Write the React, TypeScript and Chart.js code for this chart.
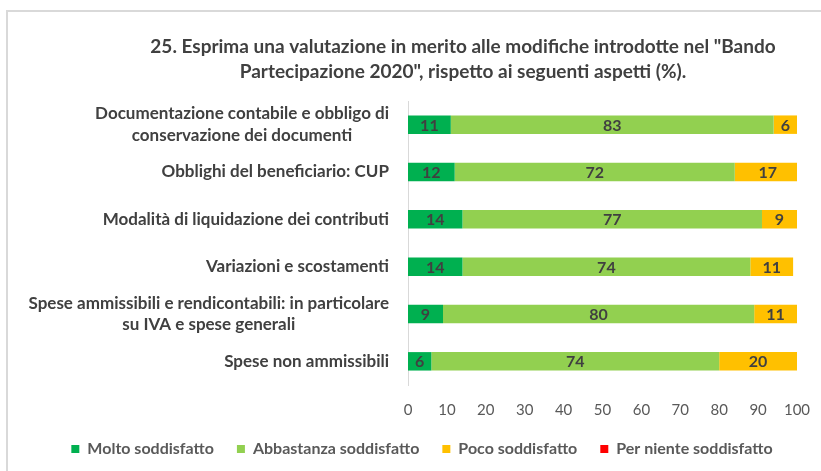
import React, { useEffect, useRef } from "react";
import { Chart, registerables } from "chart.js";

Chart.register(...registerables);

const FONT = 'Lato, "Open Sans", "Noto Sans", sans-serif';

const titleLines = [
  '25. Esprima una valutazione in merito alle modifiche introdotte nel "Bando',
  'Partecipazione 2020", rispetto ai seguenti aspetti (%).',
];

const categories: string[][] = [
  ["Documentazione contabile e obbligo di", "conservazione dei documenti"],
  ["Obblighi del beneficiario: CUP"],
  ["Modalità di liquidazione dei contributi"],
  ["Variazioni e scostamenti"],
  ["Spese ammissibili e rendicontabili: in particolare", "su IVA e spese generali"],
  ["Spese non ammissibili"],
];

const seriesNames = [
  "Molto soddisfatto",
  "Abbastanza soddisfatto",
  "Poco soddisfatto",
  "Per niente soddisfatto",
];
const seriesColors = ["#00B050", "#92D050", "#FFC000", "#FF0000"];

const molto = [11, 12, 14, 14, 9, 6];
const abbastanza = [83, 72, 77, 74, 80, 74];
const poco = [6, 17, 9, 11, 11, 20];
const perNiente = [0, 0, 0, 0, 0, 0];

const xMin = 0;
const xMax = 100;
const xStep = 10;

const titlePlugin = {
  id: "customTitle",
  afterDraw(chart: any) {
    const ctx = chart.ctx;
    ctx.save();
    ctx.font = `bold 19px ${FONT}`;
    ctx.fillStyle = "#404040";
    ctx.textAlign = "center";
    ctx.textBaseline = "middle";
    titleLines.forEach((l, i) => ctx.fillText(l, 463, 47 + i * 25));
    ctx.restore();
  },
};

const yLabelPlugin = {
  id: "yLabels",
  afterDraw(chart: any) {
    const ctx = chart.ctx;
    const yScale = chart.scales.y;
    const labels = chart.data.labels as string[][];
    const right = chart.chartArea.left - 19;
    const LH = 21.5;
    ctx.save();
    ctx.font = `bold 17px ${FONT}`;
    ctx.fillStyle = "#404040";
    ctx.textAlign = "center";
    ctx.textBaseline = "middle";
    labels.forEach((lines, i) => {
      const yc = yScale.getPixelForValue(i);
      const bw = Math.max(...lines.map((l) => ctx.measureText(l).width));
      const cx = right - bw / 2;
      lines.forEach((l, j) => {
        ctx.fillText(l, cx, yc + (j - (lines.length - 1) / 2) * LH);
      });
    });
    ctx.restore();
  },
};

const dataLabelPlugin = {
  id: "dataLabels",
  afterDatasetsDraw(chart: any) {
    const ctx = chart.ctx;
    ctx.save();
    ctx.font = `bold 16px ${FONT}`;
    ctx.fillStyle = "#404040";
    ctx.textAlign = "center";
    ctx.textBaseline = "middle";
    chart.data.datasets.forEach((ds: any, di: number) => {
      const meta = chart.getDatasetMeta(di);
      if (meta.hidden) return;
      meta.data.forEach((el: any, i: number) => {
        const v = ds.data[i];
        if (!v) return;
        const p = el.getProps(["x", "y", "base"], true);
        ctx.fillText(String(v), (p.x + p.base) / 2, p.y + 1);
      });
    });
    ctx.restore();
  },
};

export default function App() {
  const ref = useRef<HTMLCanvasElement>(null);
  useEffect(() => {
    if (!ref.current) return;
    const values = [molto, abbastanza, poco, perNiente];
    const chart = new Chart(ref.current, {
      type: "bar",
      data: {
        labels: categories as any,
        datasets: seriesNames.map((name, i) => ({
          label: name,
          data: values[i],
          backgroundColor: seriesColors[i],
          borderWidth: 0,
          barPercentage: 0.39,
          categoryPercentage: 1,
        })),
      },
      options: {
        indexAxis: "y",
        responsive: false,
        animation: false,
        layout: { padding: { top: 101, left: 47, right: 24, bottom: 4 } },
        scales: {
          x: {
            stacked: true,
            min: xMin,
            max: xMax,
            grid: { display: false, drawTicks: false },
            border: { display: false },
            ticks: {
              stepSize: xStep,
              color: "#595959",
              font: { family: FONT, size: 15, lineHeight: "44px" },
              padding: 3,
            },
            afterFit(scale: any) {
              scale.height = 33;
            },
          },
          y: {
            stacked: true,
            grid: { display: false, drawTicks: false },
            border: { display: true, color: "#d9d9d9", width: 1 },
            ticks: { display: false },
            afterFit(scale: any) {
              scale.width = 361;
            },
          },
        },
        plugins: {
          title: { display: false },
          tooltip: { enabled: false },
          legend: {
            display: true,
            position: "bottom",
            labels: {
              boxWidth: 8,
              boxHeight: 8,
              padding: 23,
              color: "#595959",
              font: { family: FONT, size: 16, weight: "bold" },
            },
          },
        },
      },
      plugins: [titlePlugin, yLabelPlugin, dataLabelPlugin],
    });
    return () => chart.destroy();
  }, []);

  return (
    <div
      style={{
        position: "absolute",
        left: 0,
        top: 0,
        width: 821,
        height: 471,
        overflow: "hidden",
        background: "#ffffff",
      }}
    >
      <div
        style={{
          position: "absolute",
          left: 6,
          top: 10,
          width: 1000,
          height: 1000,
          border: "2px solid #d9d9d9",
        }}
      />
      <canvas
        ref={ref}
        width={821}
        height={471}
        style={{ position: "absolute", left: 0, top: 0, width: 821, height: 471 }}
      />
    </div>
  );
}
